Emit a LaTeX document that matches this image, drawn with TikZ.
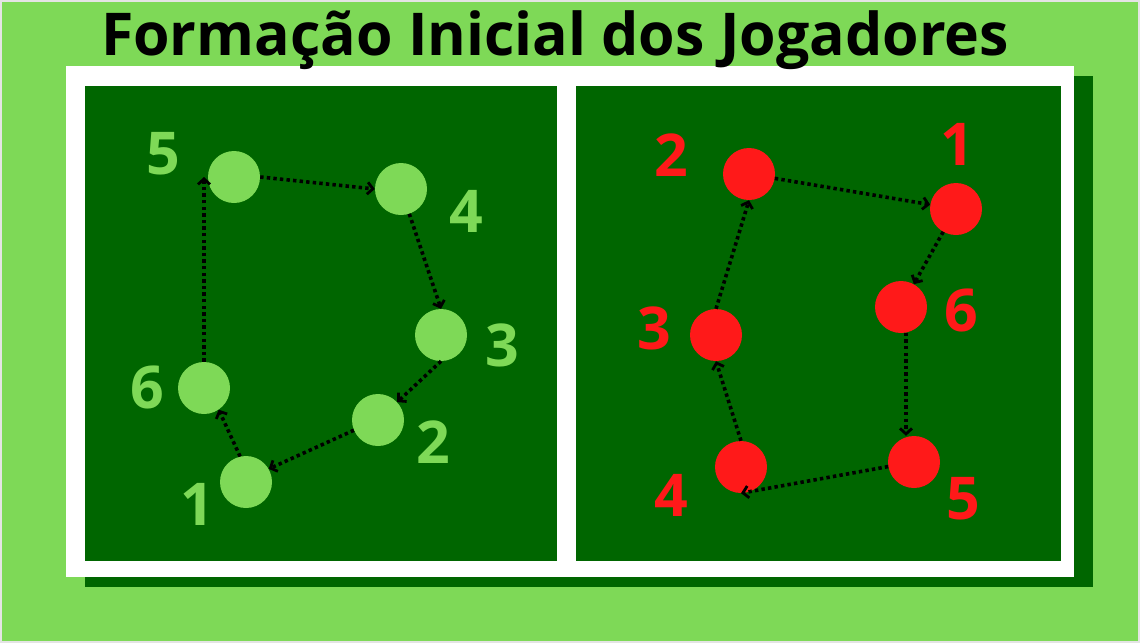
\documentclass[tikz,border=0pt]{standalone}
\usepackage{fontspec}
\setmainfont{Open Sans}
\usepackage{xcolor}
\usepackage{tikz}
\usetikzlibrary{arrows.meta,positioning,calc}
\definecolor{lawn}{RGB}{126,217,87}
\definecolor{pitch}{RGB}{0,102,0}
\definecolor{redteam}{RGB}{255,25,25}
\definecolor{edgegray}{RGB}{228,228,228}

\begin{document}
\begin{tikzpicture}[x=1pt,y=-1pt,
    gplayer/.style={circle,fill=lawn,minimum size=52pt,inner sep=0pt},
    rplayer/.style={circle,fill=redteam,minimum size=52pt,inner sep=0pt},
    num/.style={inner sep=0pt,font=\fontsize{59}{59}\selectfont\bfseries},
    arr/.style={-{Straight Barb[length=5.5pt,width=12pt,line width=2.8pt]},black,
                line width=3.6pt,dash pattern=on 3.4pt off 3.2pt}]
  \fill[edgegray] (0,0) rectangle (1140,643);
  \fill[lawn] (2,2) rectangle (1138,641);
  \fill[pitch] (85,76) rectangle (1093,587);
  \fill[white] (66,66) rectangle (1074,577);
  \fill[pitch] (85,86) rectangle (557,561);
  \fill[pitch] (576,86) rectangle (1061,561);
  \node[num,anchor=base] (title) at (555,55) {Formação Inicial dos Jogadores};
  % green side
  \node[gplayer] (g5) at (234,177) {}; \node[gplayer] (g4) at (401,189) {};
  \node[gplayer] (g3) at (441,335) {}; \node[gplayer] (g2) at (378,420) {};
  \node[gplayer] (g1) at (246,482) {}; \node[gplayer] (g6) at (204,388) {};
  \node[num,lawn] (lg5) at (163,154) {5}; \node[num,lawn] (lg4) at (466,211) {4};
  \node[num,lawn] (lg3) at (502,345) {3}; \node[num,lawn] (lg2) at (433,442) {2};
  \node[num,lawn] (lg1) at (197,504) {1}; \node[num,lawn] (lg6) at (147,387) {6};
  \draw[arr] (g5.east) -- (g4.west); \draw[arr] (g4) -- (g3.north);
  \draw[arr] (g3.south) -- (g2); \draw[arr] (g2.203) -- (g1.30);
  \draw[arr] (g1.103) -- (g6.-56); \draw[arr] (g6.north) -- (g6.north |- g5.west);
  % red side
  \node[rplayer] (r2) at (749,174) {}; \node[rplayer] (r1) at (956,209) {};
  \node[rplayer] (r6) at (901,307) {}; \node[rplayer] (r3) at (716,335) {};
  \node[rplayer] (r4) at (741,467) {}; \node[rplayer] (r5) at (914,462) {};
  \node[num,redteam] (lr2) at (671,155) {2}; \node[num,redteam] (lr1) at (957,144) {1};
  \node[num,redteam] (lr6) at (961,310) {6}; \node[num,redteam] (lr3) at (654,328) {3};
  \node[num,redteam] (lr4) at (671,495) {4}; \node[num,redteam] (lr5) at (963,499) {5};
  \draw[arr] (r3.north) -- (r2.south); \draw[arr] (r2) -- (r1);
  \draw[arr] (r1) -- (r6); \draw[arr] (r6.-79) -- (r6.-79 |- r5.north);
  \draw[arr] (r5.190) -- (r4.south); \draw[arr] (r4.north) -- (r3.south);
\end{tikzpicture}
\end{document}
